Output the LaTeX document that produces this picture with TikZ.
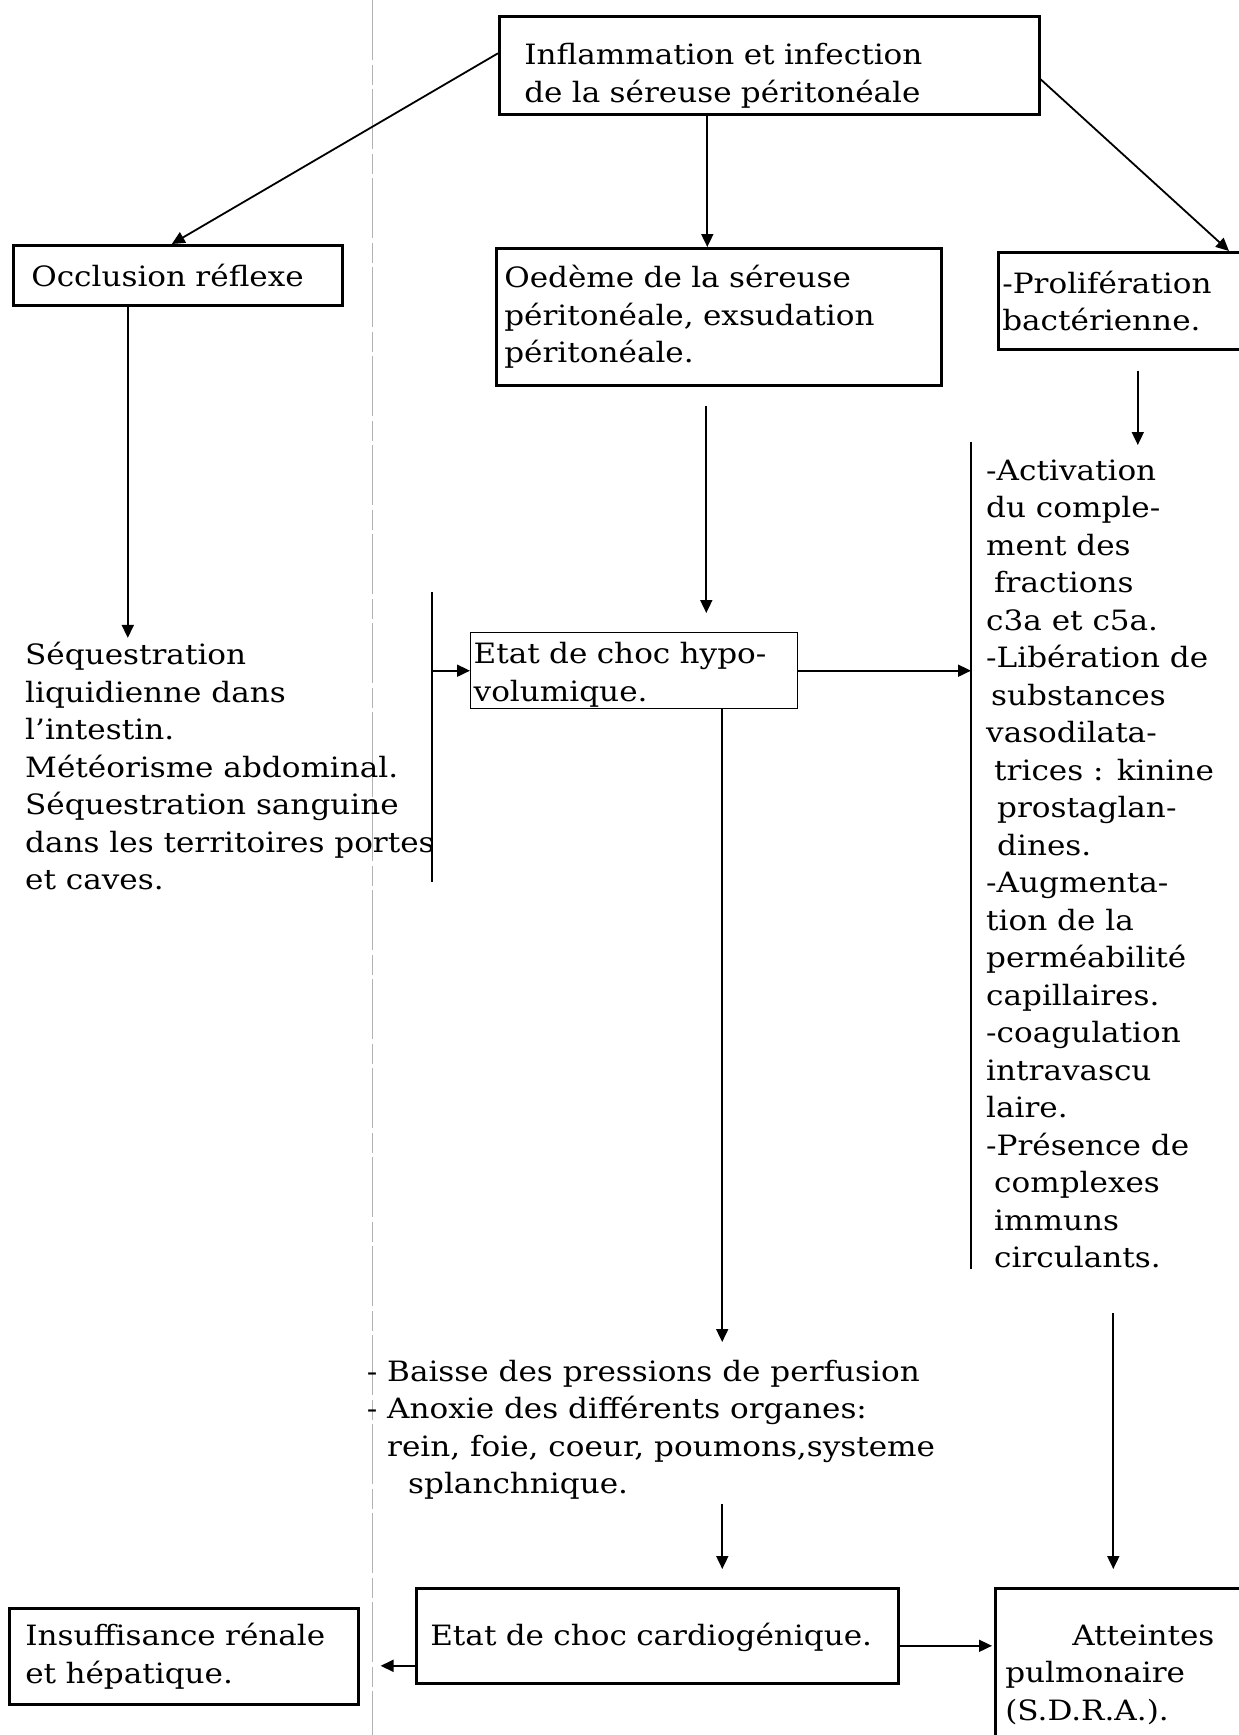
\documentclass[tikz,border=0pt]{standalone}
\usepackage{fontspec}
\setmainfont{DejaVu Serif}[FakeStretch=1.11]
\usetikzlibrary{arrows.meta}
\usetikzlibrary{positioning}

\begin{document}
\begin{tikzpicture}[x=1pt, y=-1pt,
    boite/.style={draw, line width=2.6pt, anchor=north west, inner ysep=0pt, align=left},
    texte/.style={inner sep=0pt, align=left, anchor=west},
    fleche/.style={line width=1.8pt, -{Triangle[length=13pt, width=12pt]}},
    trait/.style={line width=1.6pt},
    every node/.style={font=\fontsize{28}{37.5}\selectfont}]
  \useasboundingbox (0,0) rectangle (1239,1735);
  \clip (0,0) rectangle (1239,1735);

  % trace du scan
  \coordinate (scanH) at (372,0);
  \coordinate (scanB) at (372,1735);
  \draw [gray!60, line width=0.8pt, dash pattern=on 60pt off 5pt on 20pt off 4pt] (scanH) -- (scanB);

  % boites
  \node [boite, minimum width=540pt, minimum height=98pt, text width=490pt, inner xsep=25pt] (infl) at (498,15)
    {\rule{0pt}{42pt}Inflammation et infection\\de la séreuse péritonéale};
  \node [boite, minimum width=329pt, minimum height=60pt, text width=293pt, inner xsep=18pt] (occl) at (12,244)
    {Occlusion réflexe};
  \node [boite, minimum width=445pt, minimum height=137pt, text width=429pt, inner xsep=8pt] (oedeme) at (495,247)
    {Oedème de la séreuse\\péritonéale, exsudation\\péritonéale.};
  \node [boite, minimum width=270pt, minimum height=97pt, text width=262pt, inner xsep=4pt] (prolif) at (997,251)
    {-Prolifération\\bactérienne.};
  \node [boite, line width=1.4pt, minimum width=327pt, minimum height=76pt, text width=321pt, inner xsep=3pt] (hypo) at (470,632)
    {\rule{0pt}{29pt}Etat de choc hypo-\\volumique.};
  \node [boite, minimum width=482pt, minimum height=95pt, text width=454pt, inner xsep=14pt] (cardio) at (415,1587)
    {\rule{0pt}{26pt}Etat de choc cardiogénique.};
  \node [boite, minimum width=349pt, minimum height=96pt, text width=317pt, inner xsep=16pt] (insuf) at (8,1607)
    {Insuffisance rénale\\et hépatique.};
  \node [boite, minimum width=270pt, minimum height=173pt, text width=250pt, inner xsep=10pt] (atteint) at (994,1587)
    {\hspace*{67pt}Atteintes\\pulmonaire\\(S.D.R.A.).};

  % textes libres
  \node [texte] (sequest) at (25,766)
    {Séquestration\\liquidienne dans\\l’intestin.\\Météorisme abdominal.\\Séquestration sanguine\\dans les territoires portes\\et caves.};
  \node [texte] (activ) at (986,864)
    {-Activation\\du comple-\\ment des\\\hspace*{8pt}fractions\\c3a et c5a.\\-Libération de\\\hspace*{5pt}substances\\vasodilata-\\\hspace*{8pt}trices : kinine\\\hspace*{11pt}prostaglan-\\\hspace*{11pt}dines.\\-Augmenta-\\tion de la\\perméabilité\\capillaires.\\-coagulation\\intravascu\\laire.\\-Présence de\\\hspace*{8pt}complexes\\\hspace*{8pt}immuns\\\hspace*{8pt}circulants.};
  \node [texte] (baisse) at (387,1430)
    {\llap{- }Baisse des pressions de perfusion\\\llap{- }Anoxie des différents organes:\\rein, foie, coeur, poumons,systeme\\\hspace*{21pt}splanchnique.};

  % barres verticales
  \coordinate (bg1) at (432,592);
  \coordinate (bg2) at (432,882);
  \coordinate (bd1) at (971,442);
  \coordinate (bd2) at (971,1269);
  \draw [trait] (bg1) -- (bg2);
  \draw [trait] (bd1) -- (bd2);

  % fleches
  \draw [fleche] ([yshift=12pt]infl.west) -- ([xshift=-6pt]occl.north);
  \draw [fleche] ([xshift=-11.5pt]oedeme.north |- infl.south) -- ([xshift=-11.5pt]oedeme.north);
  \draw [fleche] ([yshift=-14pt]infl.east) -- ([xshift=232pt]prolif.north west);
  \draw [fleche, shorten >=4pt] ([xshift=-50pt]occl.south) -- ([xshift=-50pt]occl.south |- sequest.north);
  \draw [fleche, shorten <=20pt, shorten >=-3pt] ([xshift=4.5pt]prolif.south) -- ([xshift=4.5pt]prolif.south |- bd1);
  \draw [fleche, shorten <=19pt, shorten >=19pt] ([xshift=-12.5pt]oedeme.south) -- ([xshift=-12.5pt]oedeme.south |- hypo.north);
  \draw [fleche] (hypo.west -| bg1) -- (hypo.west);
  \draw [fleche] (hypo.east) -- (hypo.east -| bd1);
  \draw [fleche, shorten >=18pt] ([xshift=88pt]hypo.south) -- ([xshift=88pt]hypo.south |- baisse.north);
  \draw [fleche, shorten <=4pt, shorten >=18pt] ([xshift=65pt]cardio.north |- baisse.south) -- ([xshift=65pt]cardio.north);
  \draw [fleche, shorten <=45pt, shorten >=18pt] ([xshift=-17pt]atteint.north |- activ.south) -- ([xshift=-17pt]atteint.north);
  \draw [fleche, shorten >=21pt] ([yshift=-30pt]cardio.west) -- ([yshift=-30pt]cardio.west -| insuf.east);
  \draw [fleche, shorten >=2pt] ([yshift=-10pt]cardio.east) -- ([yshift=-10pt]cardio.east -| atteint.west);
\end{tikzpicture}
\end{document}
